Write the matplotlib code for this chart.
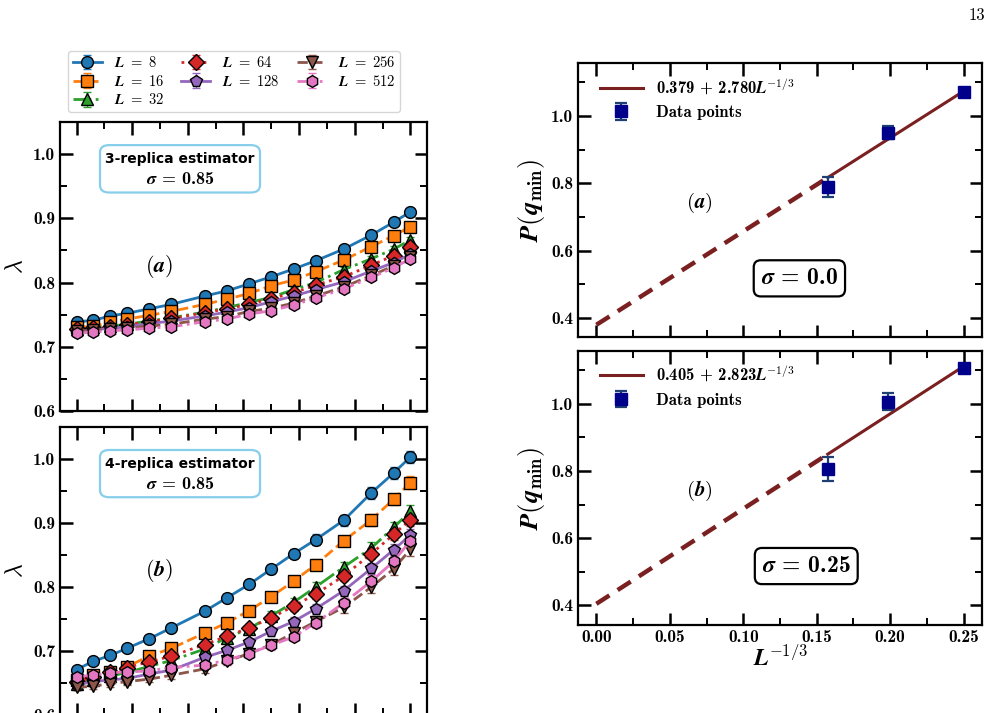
import matplotlib.pyplot as plt
from matplotlib.patches import FancyBboxPatch
from matplotlib.ticker import MultipleLocator

plt.rcParams['mathtext.fontset'] = 'cm'
plt.rcParams['font.family'] = 'serif'
plt.rcParams['font.serif'] = ['cmb10', 'DejaVu Serif']
plt.rcParams['axes.unicode_minus'] = False
plt.rcParams['axes.linewidth'] = 1.6

# temperatures (left panels)
T = [0.20, 0.23, 0.26, 0.29, 0.33, 0.37, 0.43, 0.47, 0.51, 0.55, 0.59, 0.63, 0.68, 0.73, 0.77, 0.80]
sizes = [8, 16, 32, 64, 128, 256, 512]

# 3-replica estimator
lam3_8 = [0.739, 0.741, 0.748, 0.752, 0.759, 0.766, 0.779, 0.787, 0.798, 0.809, 0.821, 0.834, 0.852, 0.874, 0.894, 0.910]
lam3_16 = [0.730, 0.732, 0.738, 0.743, 0.749, 0.755, 0.766, 0.774, 0.783, 0.795, 0.804, 0.817, 0.835, 0.856, 0.873, 0.887]
lam3_32 = [0.727, 0.730, 0.732, 0.735, 0.740, 0.745, 0.754, 0.761, 0.769, 0.777, 0.789, 0.800, 0.820, 0.837, 0.852, 0.866]
lam3_64 = [0.727, 0.729, 0.731, 0.734, 0.739, 0.744, 0.753, 0.759, 0.766, 0.775, 0.784, 0.796, 0.809, 0.827, 0.842, 0.856]
lam3_128 = [0.723, 0.726, 0.729, 0.731, 0.736, 0.740, 0.748, 0.754, 0.761, 0.770, 0.779, 0.789, 0.801, 0.818, 0.831, 0.844]
lam3_256 = [0.724, 0.726, 0.728, 0.729, 0.732, 0.735, 0.743, 0.747, 0.755, 0.760, 0.768, 0.779, 0.793, 0.811, 0.826, 0.840]
lam3_512 = [0.721, 0.723, 0.725, 0.726, 0.729, 0.731, 0.739, 0.743, 0.751, 0.756, 0.765, 0.776, 0.790, 0.808, 0.823, 0.837]
err3 = [0.002, 0.002, 0.002, 0.002, 0.002, 0.003, 0.003, 0.003, 0.003, 0.003, 0.004, 0.004, 0.004, 0.005, 0.005, 0.005]

# 4-replica estimator
lam4_8 = [0.671, 0.684, 0.693, 0.704, 0.719, 0.736, 0.762, 0.783, 0.804, 0.828, 0.852, 0.874, 0.904, 0.947, 0.978, 1.003]
lam4_16 = [0.654, 0.662, 0.667, 0.675, 0.692, 0.704, 0.728, 0.744, 0.763, 0.785, 0.809, 0.835, 0.872, 0.905, 0.937, 0.963]
lam4_32 = [0.649, 0.655, 0.661, 0.666, 0.676, 0.685, 0.703, 0.721, 0.735, 0.755, 0.776, 0.800, 0.831, 0.861, 0.893, 0.918]
lam4_64 = [0.652, 0.659, 0.667, 0.674, 0.683, 0.692, 0.710, 0.723, 0.736, 0.752, 0.770, 0.789, 0.817, 0.852, 0.882, 0.905]
lam4_128 = [0.647, 0.652, 0.655, 0.657, 0.664, 0.670, 0.690, 0.701, 0.714, 0.731, 0.746, 0.766, 0.794, 0.829, 0.858, 0.881]
lam4_256 = [0.643, 0.645, 0.649, 0.652, 0.656, 0.662, 0.672, 0.684, 0.696, 0.710, 0.728, 0.746, 0.768, 0.800, 0.828, 0.859]
lam4_512 = [0.660, 0.662, 0.666, 0.667, 0.669, 0.674, 0.678, 0.686, 0.696, 0.709, 0.722, 0.744, 0.775, 0.809, 0.840, 0.872]
err4 = [0.004, 0.004, 0.005, 0.005, 0.005, 0.005, 0.006, 0.006, 0.006, 0.007, 0.007, 0.008, 0.008, 0.009, 0.009, 0.010]

# P(q_min) vs L^{-1/3}, L = 256, 128, 64
xL = [0.1575, 0.1984, 0.25]
P_s0 = [0.789, 0.950, 1.070]
P_s0_err = [0.029, 0.019, 0.010]
P_s25 = [0.805, 1.006, 1.105]
P_s25_err = [0.035, 0.025, 0.010]
fit_s0 = (0.379, 2.780)
fit_s25 = (0.405, 2.823)

colors = ['C0', 'C1', 'C2', 'C3', 'C4', 'C5', 'C6']
markers = ['o', 's', '^', 'D', 'p', 'v', 'h']
styles = ['-', '--', '-.', ':', '-', '--', '-.']

fig = plt.figure(figsize=(10, 7.13), dpi=100)
axa = fig.add_axes([0.060, 0.4236, 0.367, 0.4053])
axb = fig.add_axes([0.060, -0.0028, 0.367, 0.404])
axr1 = fig.add_axes([0.578, 0.527, 0.404, 0.3843])
axr2 = fig.add_axes([0.578, 0.1234, 0.404, 0.3847])


def style_ticks(ax, xmaj, xmin, ymaj, ymin):
    ax.xaxis.set_major_locator(MultipleLocator(xmaj))
    ax.xaxis.set_minor_locator(MultipleLocator(xmin))
    ax.yaxis.set_major_locator(MultipleLocator(ymaj))
    ax.yaxis.set_minor_locator(MultipleLocator(ymin))
    ax.tick_params(which='both', direction='in', top=True, right=True, labelsize=12.5)
    ax.tick_params(which='major', length=9, width=1.8)
    ax.tick_params(which='minor', length=5, width=1.4)


handles = []
for ax, data, err, tag, est in [(axa, [lam3_8, lam3_16, lam3_32, lam3_64, lam3_128, lam3_256, lam3_512], err3, 'a', '3'),
                                (axb, [lam4_8, lam4_16, lam4_32, lam4_64, lam4_128, lam4_256, lam4_512], err4, 'b', '4')]:
    for i, L in enumerate(sizes):
        h = ax.errorbar(T, data[i], yerr=err, color=colors[i], marker=markers[i], ls=styles[i],
                        lw=2, ms=8.5, mec='black', mew=1.0, capsize=3, elinewidth=1,
                        label=r'$\boldsymbol{L}\ =\ \mathbf{%d}$' % L)
        if ax is axa:
            handles.append(h)
    ax.set_ylim(0.6, 1.05)
    style_ticks(ax, 0.1, 0.05, 0.1, 0.05)
    ax.set_ylabel(r'$\boldsymbol{\lambda}$', fontsize=17, labelpad=4)
    ax.text(0.27, 0.50, r'$\boldsymbol{(%s)}$' % tag,
            transform=ax.transAxes, fontsize=16, ha='center', va='center')
    # estimator box
    ax.add_patch(FancyBboxPatch((0.109, 0.756), 0.436, 0.164, transform=ax.transAxes,
                                boxstyle='round,pad=0,rounding_size=0.025',
                                fc='white', ec='skyblue', lw=1.6, zorder=5))
    ax.text(0.327, 0.873, '%s-replica estimator' % est, transform=ax.transAxes,
            fontsize=10, fontweight='bold', family='DejaVu Sans',
            ha='center', va='center', zorder=6)
    ax.text(0.327, 0.805, r'$\boldsymbol{\sigma}$ = 0.85', transform=ax.transAxes,
            fontsize=13, ha='center', va='center', zorder=6)
axa.tick_params(labelbottom=False)

fig.legend(handles=handles, loc='lower center', bbox_to_anchor=(0.234, 0.833), ncol=3,
           fontsize=10.5, handlelength=2.0, columnspacing=1.2, labelspacing=0.25,
           borderpad=0.3, handletextpad=0.8, fancybox=True)

for ax, P, Perr, fit, tag, sig, bx in [(axr1, P_s0, P_s0_err, fit_s0, 'a', '0.0', 0.548),
                                       (axr2, P_s25, P_s25_err, fit_s25, 'b', '0.25', 0.565)]:
    a0, a1 = fit
    ax.plot([xL[0], xL[-1]], [a0 + a1 * xL[0], a0 + a1 * xL[-1]], color='#7b2020', lw=2.2,
            label='%.3f + %.3f' % (a0, a1) + r'$\boldsymbol{L}^{\mathbf{-1/3}}$')
    ax.plot([0, xL[0]], [a0, a0 + a1 * xL[0]], color='#7b2020', lw=3.2, ls=(0, (3.5, 2.2)))
    ax.errorbar(xL, P, yerr=Perr, fmt='s', color='#00008b', ms=8, ecolor='#1f3f73',
                elinewidth=1.6, capsize=4, capthick=1.6, label='Data points')
    ax.set_xlim(-0.0125, 0.2625)
    ax.set_ylim(0.342, 1.157)
    style_ticks(ax, 0.05, 0.025, 0.2, 0.1)
    ax.set_ylabel(r'$\boldsymbol{P}\mathbf{(}\boldsymbol{q}_{\mathbf{min}}\mathbf{)}$', fontsize=19, labelpad=3)
    ax.legend(loc='upper left', bbox_to_anchor=(0.0, 1.03), frameon=False, fontsize=12,
              handlelength=2.6, borderaxespad=0.9, labelspacing=0.5, handletextpad=0.8)
    ax.text(0.30, 0.49, r'$\boldsymbol{(%s)}$' % tag, transform=ax.transAxes,
            fontsize=15, ha='center', va='center')
    ax.text(bx, 0.215, r'$\boldsymbol{\sigma}$ = %s' % sig,
            transform=ax.transAxes, fontsize=17, ha='center', va='center',
            bbox=dict(boxstyle='round,pad=0.3', fc='white', ec='black', lw=1.6))
axr1.tick_params(labelbottom=False)
axr2.set_xlabel(r'$\boldsymbol{L}^{\mathbf{-1/3}}$', fontsize=17, labelpad=0)

fig.text(0.985, 0.978, '13', family='cmr10', fontsize=12, ha='right', va='center')

fig.savefig('out.png', dpi=100)
